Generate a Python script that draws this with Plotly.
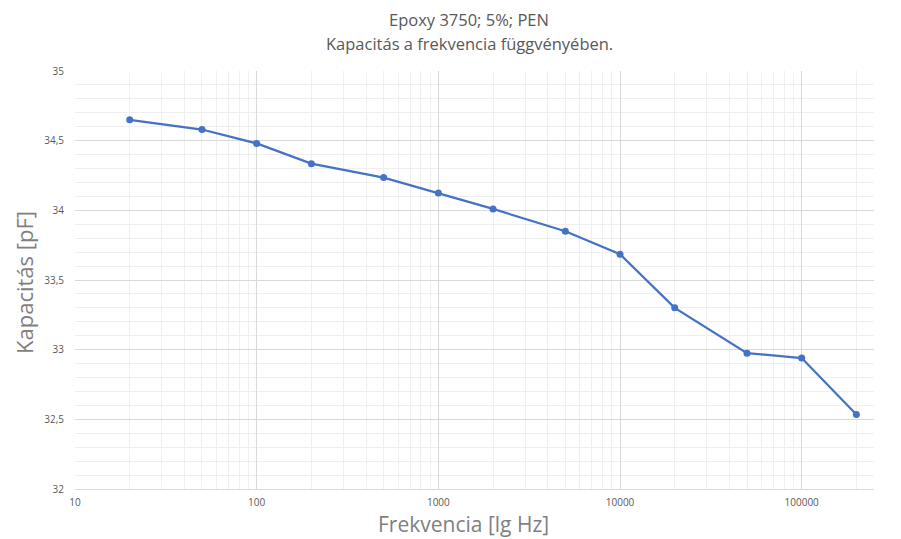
import plotly.graph_objects as go

freq = [20, 50, 100, 200, 500, 1000, 2000, 5000, 10000, 20000, 50000, 100000, 200000]
cap = [34.65, 34.58, 34.48, 34.335, 34.235, 34.125, 34.01, 33.85, 33.685, 33.30, 32.975, 32.94, 32.535]

x_ticks = [10, 100, 1000, 10000, 100000]
x_tick_labels = ["10", "100", "1000", "10000", "100000"]
y_ticks = [32, 32.5, 33, 33.5, 34, 34.5, 35]
y_tick_labels = ["32", "32,5", "33", "33,5", "34", "34,5", "35"]

title_lines = ["Epoxy 3750; 5%; PEN", "Kapacitás a frekvencia függvényében."]
x_title = "Frekvencia [lg Hz]"
y_title = "Kapacitás [pF]"

FONT = "Open Sans"
W, H = 901, 539
OFF = 8  # page body margin offset
# target plot area in screen pixels: left 75, right 874, top 71, bottom 489
ML = 75 - OFF
MT = 71 - OFF
MR = W - (874 - OFF)
MB = H - (489 - OFF)
pw = W - ML - MR
ph = H - MT - MB


def px(x):
    return (x - OFF - ML) / pw


def py(y):
    return 1 - (y - OFF - MT) / ph


fig = go.Figure()
fig.add_trace(go.Scatter(
    x=freq, y=cap, mode="lines+markers",
    line=dict(color="#4472C4", width=2.25),
    marker=dict(color="#4472C4", size=7),
    showlegend=False,
))

anns = []
for txt, yy in zip(title_lines, [19, 44]):
    anns.append(dict(text=txt, x=px(469), y=py(yy), xref="paper", yref="paper",
                     showarrow=False, xanchor="center", yanchor="middle",
                     font=dict(family=FONT, size=16.5, color="#595959")))
anns.append(dict(text=x_title, x=px(463), y=py(523.5), xref="paper", yref="paper",
                 showarrow=False, xanchor="center", yanchor="middle",
                 font=dict(family=FONT, size=21, color="#7f7f7f")))
anns.append(dict(text=y_title, x=px(24), y=py(283), xref="paper", yref="paper",
                 showarrow=False, xanchor="center", yanchor="middle", textangle=-90,
                 font=dict(family=FONT, size=22, color="#7f7f7f")))

fig.update_layout(
    width=W, height=H,
    margin=dict(l=ML, r=MR, t=MT, b=MB, autoexpand=False),
    paper_bgcolor="white", plot_bgcolor="white",
    separators=", ",
    font=dict(family=FONT, color="#595959"),
    annotations=anns,
)

fig.update_xaxes(
    type="log", range=[1, 5.398], automargin=False,
    tickvals=x_ticks, ticktext=x_tick_labels,
    tickfont=dict(family=FONT, size=10, color="#595959"),
    showgrid=True, gridcolor="#d9d9d9", gridwidth=1,
    minor=dict(dtick="D1", showgrid=True, gridcolor="#efefef", gridwidth=1, ticks=""),
    showline=True, linecolor="#d9d9d9", linewidth=1,
    ticks="", zeroline=False, ticklabelstandoff=4,
)
fig.update_yaxes(
    range=[32, 35], automargin=False,
    tickvals=y_ticks, ticktext=y_tick_labels,
    tickfont=dict(family=FONT, size=10, color="#595959"),
    showgrid=True, gridcolor="#d9d9d9", gridwidth=1,
    minor=dict(dtick=0.1, showgrid=True, gridcolor="#efefef", gridwidth=1, ticks=""),
    showline=False, ticks="", zeroline=False,
    ticklabelstandoff=10,
)

fig.write_html("out.html")
